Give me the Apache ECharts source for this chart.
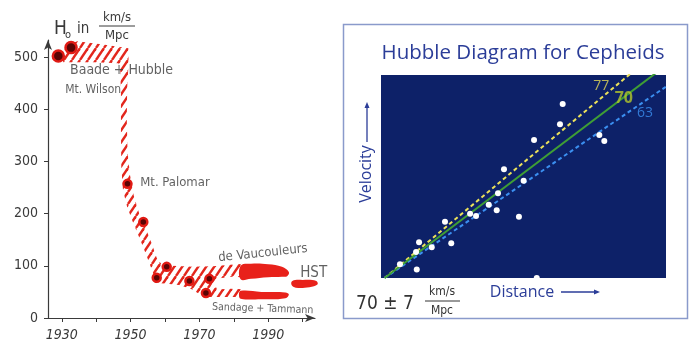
<!DOCTYPE html>
<html><head><meta charset="utf-8">
<script src="https://cdn.jsdelivr.net/npm/echarts@6/dist/echarts.min.js"></script>
<style>html,body{margin:0;padding:0;background:#fff}#c{width:700px;height:356px}</style>
</head><body><div id="c"></div>
<script>
// ---------- Left chart: history of H0 ----------
const yearTicks  = [1930,1940,1950,1960,1970,1980,1990,2000];
const yearLabels = [1930,1950,1970,1990];
const h0Ticks    = [0,100,200,300,400,500];
const measYears  = [1929,1932.7,1949.1,1953.7,1957.6,1960.5,1967.1,1971.9,1972.9];
const measH0     = [502,518,257,184,77,98,71,48,75];
// hatched uncertainty band outline
const bandYears = [1930.0,1931.0,1934.5,1942,1949.4,1949.4,1949.0,1948.9,1949.1,1949.8,1950.9,1952.5,1954.5,1956.3,1957.6,1959.0,1962,1968,1974,1979,1983,
                   1983,1979,1976,1974,1973.5,1976,1979,1983,
                   1983,1979,1975,1972,1970,1967.5,1964,1960,1957.2,1956.6,1954.6,1952.8,1950.6,1949.0,1947.8,1947.3,1947.2,1947.2,1947.0,1946.5,1940,1930.5];
const bandH0    = [497,520,530,524,517,485,440,380,320,275,235,200,170,140,115,103,100,98,99,102,104,
                   78,79,76,70,62,55,56,55,
                   40,40,40,40,46,56,63,66,67,85,120,150,185,213,245,290,360,430,475,488,490,490];
// solid recent estimates
const deVaucYears = [1982,1985,1990,1994,1996,1995.5,1994,1990,1985,1982];
const deVaucH0    = [100,104,103,98,88,80,79,78,75,74];
const sandYears   = [1982,1988,1995,1996,1995,1988,1982,1981.5];
const sandH0      = [52,50,49,45,38,36,37,44];
const hstYears    = [1997,2000,2004,2004.3,2002,1998,1996.8];
const hstH0       = [71,73,71,64,59,58,63];
// annotations
const noteYears = [1932.4,1931.0,1952.8,1975.5,1999.3,1973.7];
const noteH0    = [475,437,260,115,86,21];
const noteText  = ['Baade + Hubble','Mt. Wilson','Mt. Palomar','de Vaucouleurs','HST','Sandage + Tammann'];

// ---------- Right chart: Hubble diagram ----------
const galaxyDist = [12.50,12.31,10.49,15.07,15.42,8.38,9.76,7.96,7.31,7.87,6.00,6.42,9.43,4.24,4.68,3.31,2.42,2.21,1.08,2.26,10.68];
const galaxyVel  = [1131,999,897,930,891,707,633,551,477,440,418,403,399,366,226,200,232,169,89,55,0];
const fitSlopes  = [77,70,63];
const fitNames   = ['77','70','63'];

const HAND = "'DejaVu Sans Condensed','Liberation Sans Narrow','Noto Sans',sans-serif";
const INK = '#3a3a3a';

function hatchCanvas(){
  const c = document.createElement('canvas');
  const w = 8, h = 12; c.width = w; c.height = h;
  const g = c.getContext('2d');
  g.strokeStyle = '#e3261c'; g.lineWidth = 2.4;
  for (let k = -1; k <= 1; k++) { g.beginPath(); g.moveTo(k*w, h); g.lineTo(k*w + w, 0); g.stroke(); }
  return c;
}
const hatch = hatchCanvas();

function polySeries(xs, ys, style, smooth){
  return {
    type: 'custom', xAxisIndex: 0, yAxisIndex: 0, silent: true, clip: false,
    data: [[xs[0], ys[0]]],
    renderItem(params, api){
      const pts = xs.map((x, i) => api.coord([x, ys[i]]));
      return { type: 'polygon', shape: { points: pts, smooth: smooth }, style: style };
    }
  };
}

const chart = echarts.init(document.getElementById('c'));
const XMAX = 19.75;
const lineLabelStyles = [
  { color: '#e3d957', fontSize: 14, offset: [-5, -14] },
  { color: '#b4c82a', fontSize: 16, fontWeight: 'bold', offset: [-5, -2] },
  { color: '#3b8ff0', fontSize: 14, offset: [-4, 9] }
];

const option = {
  animation: false,
  backgroundColor: '#fff',
  grid: [
    { left: 48, top: 40, width: 267, height: 278 },
    { left: 381, top: 75, width: 285, height: 203, show: true, backgroundColor: '#0d2168', borderWidth: 0 }
  ],
  xAxis: [
    { gridIndex: 0, type: 'value', min: 1926, max: 2003.6,
      axisLine: { lineStyle: { color: INK, width: 1.2 }, symbol: ['none','arrow'], symbolSize: [6,10] },
      axisTick: { customValues: yearTicks, length: 4, lineStyle: { color: INK } },
      axisLabel: { customValues: yearLabels, formatter: v => String(v), color: INK, fontSize: 14, fontFamily: HAND, margin: 10, fontStyle: 'italic' },
      splitLine: { show: false } },
    { gridIndex: 1, type: 'value', min: -0.25, max: XMAX, show: false }
  ],
  yAxis: [
    { gridIndex: 0, type: 'value', min: 0, max: 532.6,
      axisLine: { show: true, lineStyle: { color: INK, width: 1.2 }, symbol: ['none','arrow'], symbolSize: [6,10] },
      axisTick: { show: true, customValues: h0Ticks, length: 4, lineStyle: { color: INK } },
      axisLabel: { customValues: h0Ticks, formatter: v => String(v), color: INK, fontSize: 14, fontFamily: HAND, margin: 10 },
      splitLine: { show: false } },
    { gridIndex: 1, type: 'value', min: 0, max: 1320, show: false }
  ],
  series: [
    polySeries(bandYears, bandH0, { fill: { image: hatch, repeat: 'repeat' } }, 0),
    polySeries(deVaucYears, deVaucH0, { fill: '#e8211a' }, 0.4),
    polySeries(sandYears, sandH0, { fill: '#e8211a' }, 0.4),
    polySeries(hstYears, hstH0, { fill: '#e8211a' }, 0.4),
    { type: 'scatter', xAxisIndex: 0, yAxisIndex: 0, silent: true,
      data: measYears.map((y, i) => [y, measH0[i]]),
      symbolSize: v => v[1] > 400 ? 11 : 8,
      itemStyle: { color: '#5a0505', borderColor: '#e01a14', borderWidth: 2.5, opacity: 1 } },
    { type: 'scatter', xAxisIndex: 0, yAxisIndex: 0, silent: true, symbolSize: 0,
      data: noteYears.map((y, i) => ({ value: [y, noteH0[i]], name: noteText[i],
        label: { rotate: i === 3 ? 6 : (i === 5 ? -2 : 0), fontSize: [14,12,13,13,15,10.5][i] } })),
      label: { show: true, position: 'right', distance: 0, formatter: p => p.name, color: INK, fontFamily: HAND } },
    // Hubble diagram
    ...fitSlopes.map((s, i) => ({
      type: 'line', xAxisIndex: 1, yAxisIndex: 1, silent: true, showSymbol: false, clip: true,
      data: [[0, 0], [XMAX, s * XMAX]],
      lineStyle: [{ color: '#ece25a', width: 2, type: [4,3] }, { color: '#3f9e35', width: 2 }, { color: '#3b8ff0', width: 2, type: [4,3] }][i],
      z: [3,4,3][i]
    })),
    { type: 'scatter', xAxisIndex: 1, yAxisIndex: 1, silent: true, symbolSize: 0, z: 6,
      data: fitSlopes.map((s, i) => { const d = [15.0, 16.5, 18.0][i]; return { value: [d, s * d], name: fitNames[i], label: lineLabelStyles[i] }; }),
      label: { show: true, position: 'right', distance: 0, formatter: p => p.name, fontFamily: "'Open Sans',sans-serif" } },
    { type: 'scatter', xAxisIndex: 1, yAxisIndex: 1, silent: true, symbolSize: 6, z: 7,
      data: galaxyDist.map((d, i) => [d, galaxyVel[i]]),
      itemStyle: { color: '#ffffff', opacity: 1 } }
  ],
  graphic: [
    { type: 'rect', shape: { x: 343.5, y: 24.5, width: 344, height: 294 }, style: { fill: 'none', stroke: '#8a9acb', lineWidth: 1.5 } },
    { type: 'text', x: 523, y: 53, style: { text: 'Hubble Diagram for Cepheids', fill: '#2b3d98', font: "20.5px 'Open Sans', sans-serif", align: 'center', verticalAlign: 'middle' } },
    { type: 'text', x: 366, y: 174, rotation: Math.PI / 2, style: { text: 'Velocity', fill: '#2b3d98', font: "16px 'Open Sans', sans-serif", align: 'center', verticalAlign: 'middle' } },
    { type: 'line', shape: { x1: 367, y1: 142, x2: 367, y2: 105 }, style: { stroke: '#2b3d98', lineWidth: 1.3 } },
    { type: 'polygon', shape: { points: [[367,102],[364.5,108],[369.5,108]] }, style: { fill: '#2b3d98' } },
    { type: 'text', x: 522, y: 292, style: { text: 'Distance', fill: '#2b3d98', font: "16px 'Open Sans', sans-serif", align: 'center', verticalAlign: 'middle' } },
    { type: 'line', shape: { x1: 561, y1: 292, x2: 597, y2: 292 }, style: { stroke: '#2b3d98', lineWidth: 1.3 } },
    { type: 'polygon', shape: { points: [[600,292],[594,289.5],[594,294.5]] }, style: { fill: '#2b3d98' } },
    { type: 'text', x: 385, y: 304, style: { text: '70 ± 7', fill: '#333', font: "19px " + HAND, align: 'center', verticalAlign: 'middle' } },
    { type: 'text', x: 442, y: 292, style: { text: 'km/s', fill: '#333', font: "12px " + HAND, align: 'center', verticalAlign: 'middle' } },
    { type: 'line', shape: { x1: 425, y1: 301, x2: 460, y2: 301 }, style: { stroke: '#333', lineWidth: 1 } },
    { type: 'text', x: 442, y: 311, style: { text: 'Mpc', fill: '#333', font: "12px " + HAND, align: 'center', verticalAlign: 'middle' } },
    // left axis title
    { type: 'text', x: 54, y: 29, style: { text: 'H', fill: INK, font: "19px " + HAND, align: 'left', verticalAlign: 'middle' } },
    { type: 'text', x: 65, y: 35, style: { text: 'o', fill: INK, font: "11px " + HAND, align: 'left', verticalAlign: 'middle' } },
    { type: 'text', x: 77, y: 29, style: { text: 'in', fill: INK, font: "15px " + HAND, align: 'left', verticalAlign: 'middle' } },
    { type: 'text', x: 117, y: 18, style: { text: 'km/s', fill: INK, font: "13px " + HAND, align: 'center', verticalAlign: 'middle' } },
    { type: 'line', shape: { x1: 99, y1: 26, x2: 135, y2: 26 }, style: { stroke: INK, lineWidth: 1 } },
    { type: 'text', x: 117, y: 36, style: { text: 'Mpc', fill: INK, font: "13px " + HAND, align: 'center', verticalAlign: 'middle' } }
  ]
};
chart.setOption(option);
</script>
</body></html>
